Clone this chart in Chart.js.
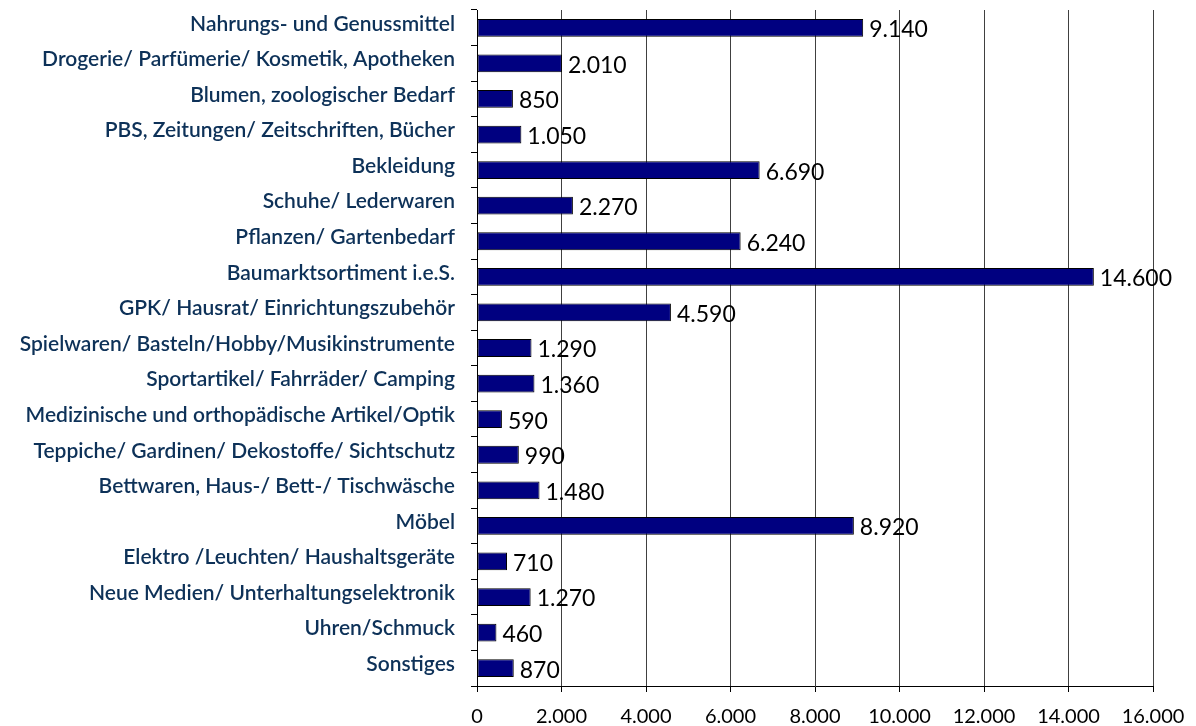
<!DOCTYPE html>
<html><head><meta charset="utf-8">
<script src="https://cdn.jsdelivr.net/npm/chart.js@4/dist/chart.umd.min.js"></script>
<style>html,body{margin:0;padding:0;background:#fff;}#wrap{width:1196px;height:726px;}</style>
</head><body><div id="wrap"><canvas id="c" width="1196" height="726"></canvas></div>
<script>
const categories = [
  "Nahrungs- und Genussmittel",
  "Drogerie/ Parfümerie/ Kosmetik, Apotheken",
  "Blumen, zoologischer Bedarf",
  "PBS, Zeitungen/ Zeitschriften, Bücher",
  "Bekleidung",
  "Schuhe/ Lederwaren",
  "Pflanzen/ Gartenbedarf",
  "Baumarktsortiment i.e.S.",
  "GPK/ Hausrat/ Einrichtungszubehör",
  "Spielwaren/ Basteln/Hobby/Musikinstrumente",
  "Sportartikel/ Fahrräder/ Camping",
  "Medizinische und orthopädische Artikel/Optik",
  "Teppiche/ Gardinen/ Dekostoffe/ Sichtschutz",
  "Bettwaren, Haus-/ Bett-/ Tischwäsche",
  "Möbel",
  "Elektro /Leuchten/ Haushaltsgeräte",
  "Neue Medien/ Unterhaltungselektronik",
  "Uhren/Schmuck",
  "Sonstiges"
];
const values = [9140, 2010, 850, 1050, 6690, 2270, 6240, 14600, 4590, 1290, 1360, 590, 990, 1480, 8920, 710, 1270, 460, 870];
const xMin = 0, xMax = 16000, xStep = 2000;

function fmt(v){
  return String(Math.round(v)).replace(/\B(?=(\d{3})+(?!\d))/g, ".");
}

const valueLabels = {
  id: 'valueLabels',
  afterDatasetsDraw(chart){
    const ctx = chart.ctx;
    const meta = chart.getDatasetMeta(0);
    ctx.save();
    ctx.font = '23px Lato, "Noto Sans", sans-serif';
    ctx.fillStyle = '#000';
    ctx.textAlign = 'left';
    ctx.textBaseline = 'middle';
    meta.data.forEach((bar, i) => {
      ctx.fillText(fmt(values[i]), bar.x + 6, bar.y + 2);
    });
    ctx.restore();
  }
};

new Chart(document.getElementById('c'), {
  type: 'bar',
  data: {
    labels: categories,
    datasets: [{
      data: values,
      backgroundColor: '#000080',
      borderColor: '#000000',
      borderWidth: 1,
      borderSkipped: false,
      categoryPercentage: 0.5,
      barPercentage: 1.0
    }]
  },
  options: {
    indexAxis: 'y',
    responsive: false,
    animation: false,
    layout: { padding: { top: 10, right: 43, bottom: 0, left: 0 } },
    plugins: { legend: { display: false }, tooltip: { enabled: false } },
    scales: {
      x: {
        min: xMin, max: xMax,
        ticks: { stepSize: xStep, callback: v => fmt(v), color: '#000', font: { size: 20, family: 'Lato, "Noto Sans", sans-serif' }, padding: 13 },
        grid: { color: '#404040', lineWidth: 1, tickLength: 6, tickColor: '#000' },
        border: { color: '#000', width: 1 },
        afterFit(s){ s.height = 40; s.paddingLeft = 0; s.paddingRight = 0; }
      },
      y: {
        ticks: { color: '#0d3158', font: { size: 21, weight: '600', family: 'Lato, "Noto Sans", sans-serif' }, padding: 16, autoSkip: false, labelOffset: -4 },
        grid: { offset: true, drawOnChartArea: false, tickLength: 6, tickColor: '#000' },
        border: { color: '#000', width: 1 },
        afterFit(s){ s.width = 477; s.paddingTop = 0; s.paddingBottom = 0; }
      }
    }
  },
  plugins: [valueLabels]
});
</script>
</body></html>
